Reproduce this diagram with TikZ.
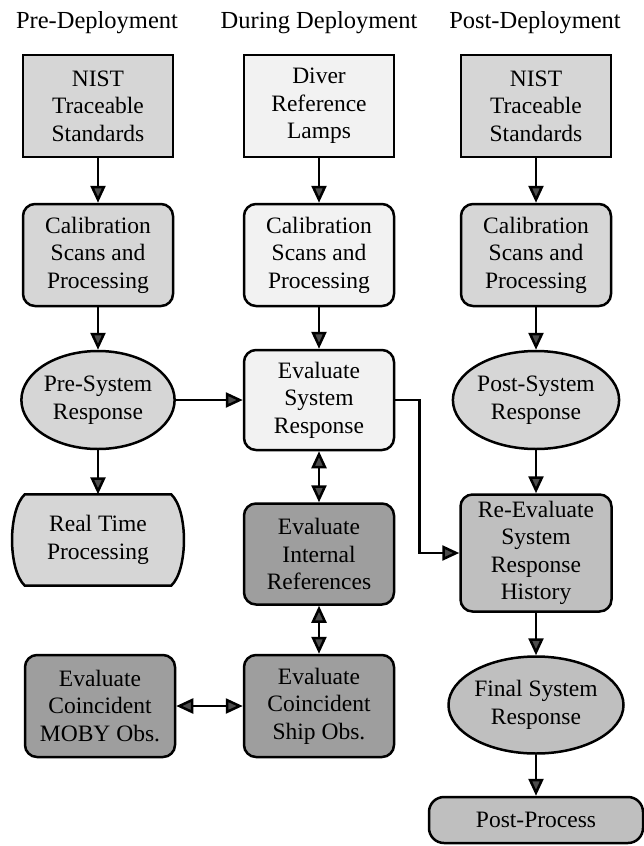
\documentclass[tikz,border=0pt]{standalone}
\usepackage{fontspec}
\setmainfont{Liberation Serif}
\usetikzlibrary{arrows.meta, shapes.geometric, backgrounds}
\definecolor{paleshade}{gray}{0.95}
\definecolor{lightshade}{gray}{0.84}
\definecolor{midshade}{gray}{0.75}
\definecolor{darkshade}{gray}{0.62}
\colorlet{tipfill}{black!70}

\begin{document}
\begin{tikzpicture}[
    x=1pt, y=-1pt,
    font=\fontsize{23.5}{27.5}\selectfont,
    >={Triangle[length=17pt, width=15pt, fill=tipfill]},
    colhead/.style={font=\fontsize{24.5}{28}\selectfont, anchor=base},
    block/.style={draw, line width=2.5pt, align=center, inner sep=0pt,
                  minimum width=150pt, minimum height=102pt},
    stdbox/.style={block},
    procbox/.style={block, rounded corners=12pt},
    respell/.style={ellipse, draw, line width=2.5pt, align=center, inner sep=0pt,
                    minimum width=152pt, minimum height=98pt},
    flow/.style={->, line width=2.5pt},
    twoway/.style={<->, line width=2.5pt},
]

\def\colA{98}
\def\colB{319}
\def\colC{536}

\useasboundingbox (0,0) rectangle (644,846);

% column headings
\node[colhead] (hpre)  at (97,28)  {Pre-Deployment};
\node[colhead] (hdur)  at (319,28) {During Deployment};
\node[colhead] (hpost) at (535,28) {Post-Deployment};

% sources
\node[stdbox, fill=lightshade] (nistpre)  at (\colA,106) {NIST\\Traceable\\Standards};
\node[stdbox, fill=paleshade]  (diver)    at (\colB,106) {Diver\\Reference\\Lamps};
\node[stdbox, fill=lightshade] (nistpost) at (\colC,106) {NIST\\Traceable\\Standards};

% calibration scans
\node[procbox, fill=lightshade] (calpre)  at (\colA,255) {Calibration\\Scans and\\Processing};
\node[procbox, fill=paleshade]  (caldur)  at (\colB,255) {Calibration\\Scans and\\Processing};
\node[procbox, fill=lightshade] (calpost) at (\colC,255) {Calibration\\Scans and\\Processing};

% system response
\node[respell, fill=lightshade] (presys) at (\colA,400) {Pre-System\\Response};
\node[procbox, fill=paleshade, minimum height=100pt] (evalsys) at (\colB,400)
    {Evaluate\\System\\Response};
\node[respell, fill=lightshade, minimum width=154pt] (postsys) at (\colC,400)
    {Post-System\\Response};

% fourth row
\node[minimum width=146pt, minimum height=91pt, inner sep=0pt, align=center]
    (realtime) at (\colA,540) {Real Time\\Processing};
\begin{pgfonlayer}{background}
\draw[line width=2.5pt, fill=lightshade]
    (realtime.south west) .. controls +(-17,-16) and +(-17,16) .. (realtime.north west)
    -- (realtime.north east) .. controls +(17,16) and +(17,-16) .. (realtime.south east)
    -- cycle;
\end{pgfonlayer}
\node[procbox, fill=darkshade, minimum height=101pt] (intref) at (\colB,554)
    {Evaluate\\Internal\\References};
\node[procbox, fill=midshade, minimum width=151pt, minimum height=117pt] (reeval)
    at (\colC,553) {Re-Evaluate\\System\\Response\\History};

% coincident observations
\node[procbox, fill=darkshade] (moby) at (100,706) {Evaluate\\Coincident\\MOBY Obs.};
\node[procbox, fill=darkshade] (ship) at (\colB,706) {Evaluate\\Coincident\\Ship Obs.};
\node[respell, fill=midshade, minimum width=175pt, minimum height=97pt] (finalsys)
    at (\colC,705) {Final System\\Response};

% final step
\node[block, fill=midshade, rounded corners=15pt, minimum width=214pt,
      minimum height=46pt] (postproc) at (\colC,820) {Post-Process};

% connectors
\draw[flow] (nistpre) -- (calpre);
\draw[flow] (diver) -- (caldur);
\draw[flow] (nistpost) -- (calpost);
\draw[flow] (calpre) -- (presys);
\draw[flow] (caldur) -- (evalsys);
\draw[flow] (calpost) -- (postsys);
\draw[flow] (presys) -- (evalsys);
\draw[flow] (presys) -- (realtime);
\draw[flow] (postsys) -- (reeval);
\draw[flow] (evalsys.east) -- ++(24,0) |- (reeval.west);
\draw[flow] (reeval) -- (finalsys);
\draw[flow] (finalsys) -- (postproc);
\draw[twoway] (evalsys) -- (intref);
\draw[twoway] (intref) -- (ship);
\draw[twoway] (ship) -- (moby);

\end{tikzpicture}
\end{document}
